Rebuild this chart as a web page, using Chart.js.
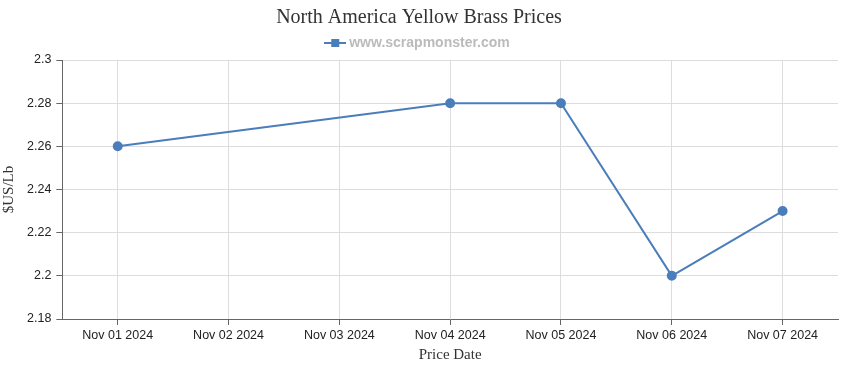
<!DOCTYPE html>
<html>
<head>
<meta charset="utf-8">
<script src="https://cdn.jsdelivr.net/npm/chart.js@4"></script>
<style>
  html, body { margin: 0; padding: 0; background: #fff; }
  #wrap { width: 850px; height: 370px; }
</style>
</head>
<body>
<div id="wrap"><canvas id="chart"></canvas></div>
<script>
const dates = ['Nov 01 2024', 'Nov 02 2024', 'Nov 03 2024', 'Nov 04 2024', 'Nov 05 2024', 'Nov 06 2024', 'Nov 07 2024'];
const prices = [2.26, null, null, 2.28, 2.28, 2.20, 2.23];
const yMin = 2.18;
const yMax = 2.30;
const yStep = 0.02;

const blue = '#4a7ebb';

// legend marker: short line with a square in the middle
function legendMarker() {
  const c = document.createElement('canvas');
  c.width = 22; c.height = 10;
  const g = c.getContext('2d');
  g.strokeStyle = blue;
  g.lineWidth = 2;
  g.beginPath(); g.moveTo(0, 5); g.lineTo(22, 5); g.stroke();
  g.fillStyle = blue;
  g.fillRect(7, 1, 8, 8);
  return c;
}

const ctx = document.getElementById('chart').getContext('2d');
new Chart(ctx, {
  type: 'line',
  data: {
    labels: dates,
    datasets: [{
      label: 'www.scrapmonster.com',
      data: prices,
      borderColor: blue,
      backgroundColor: blue,
      borderWidth: 2,
      pointRadius: 4,
      pointHoverRadius: 5,
      spanGaps: true,
      tension: 0
    }]
  },
  options: {
    responsive: true,
    maintainAspectRatio: false,
    animation: false,
    layout: { padding: { left: 0, right: 12, top: 2, bottom: 6 } },
    plugins: {
      title: {
        display: true,
        text: 'North America Yellow Brass Prices',
        color: '#333',
        font: { family: '"Liberation Serif", "Times New Roman", serif', size: 20, weight: 'normal' },
        padding: { top: 4, bottom: 0 }
      },
      legend: {
        labels: {
          color: '#bbb',
          font: { family: '"Liberation Sans", Arial, sans-serif', size: 14, weight: 'bold' },
          usePointStyle: true,
          padding: 6,
          generateLabels: chart => chart.data.datasets.map((ds, i) => ({
            text: ds.label,
            pointStyle: legendMarker(),
            fontColor: '#bbb',
            datasetIndex: i,
            hidden: false,
            lineWidth: 0
          }))
        }
      },
      tooltip: { enabled: true }
    },
    scales: {
      x: {
        offset: true,
        grid: { color: '#ddd', tickLength: 6, tickColor: '#666', offset: false },
        border: { color: '#666' },
        ticks: {
          color: '#222',
          font: { family: '"Liberation Sans", Arial, sans-serif', size: 12.5 },
          maxRotation: 0,
          autoSkip: false,
          padding: 3
        },
        title: {
          display: true,
          text: 'Price Date',
          color: '#333',
          font: { family: '"Liberation Serif", "Times New Roman", serif', size: 15 },
          padding: { top: 0, bottom: 0 }
        }
      },
      y: {
        min: yMin,
        max: yMax,
        grid: { color: '#ddd', tickLength: 6, tickColor: '#666' },
        border: { color: '#666' },
        ticks: {
          stepSize: yStep,
          color: '#222',
          font: { family: '"Liberation Sans", Arial, sans-serif', size: 12.5 },
          padding: 5,
          callback: v => String(parseFloat(v.toFixed(2)))
        },
        title: {
          display: true,
          text: '$US/Lb',
          color: '#333',
          font: { family: '"Liberation Serif", "Times New Roman", serif', size: 15 },
          padding: { top: 0, bottom: 4 }
        }
      }
    }
  }
});
</script>
</body>
</html>
